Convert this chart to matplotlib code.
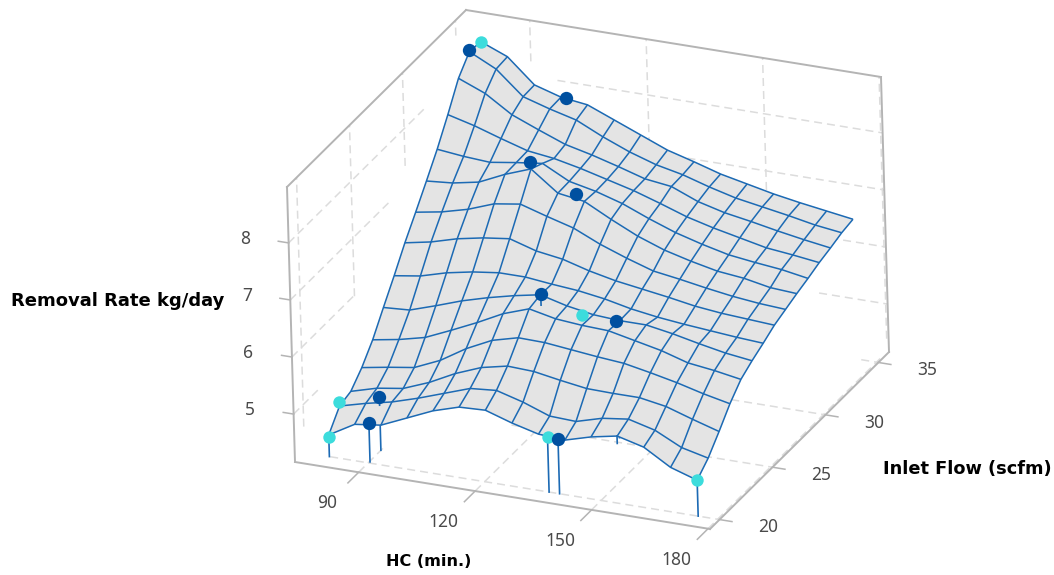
import numpy as np
import matplotlib
matplotlib.use("Agg")
import matplotlib.pyplot as plt
from mpl_toolkits.mplot3d import Axes3D  # noqa: F401

# ---------- data ----------
hc_grid = np.linspace(80, 175, 15)
flow_grid = np.linspace(20, 35, 15)
removal = [
    [4.54,4.80,4.86,5.06,5.26,5.40,5.42,5.27,5.15,5.12,5.25,5.34,5.22,4.94,4.79],
    [4.85,4.97,5.07,5.21,5.37,5.53,5.57,5.44,5.27,5.25,5.38,5.44,5.32,5.09,4.98],
    [4.91,5.04,5.11,5.29,5.52,5.70,5.80,5.78,5.70,5.63,5.62,5.62,5.54,5.39,5.25],
    [5.13,5.21,5.28,5.48,5.76,5.98,6.10,6.09,6.04,5.99,5.95,5.86,5.76,5.64,5.54],
    [5.42,5.50,5.61,5.81,6.02,6.25,6.41,6.31,6.27,6.25,6.15,6.05,5.91,5.85,5.77],
    [5.79,5.82,5.97,6.13,6.26,6.37,6.46,6.34,6.26,6.23,6.23,6.15,6.05,5.96,5.90],
    [6.15,6.22,6.35,6.44,6.50,6.50,6.45,6.41,6.34,6.24,6.17,6.12,6.08,6.04,6.01],
    [6.53,6.62,6.75,6.84,6.90,6.76,6.69,6.56,6.46,6.39,6.32,6.24,6.19,6.16,6.13],
    [6.87,6.95,7.07,7.24,7.31,7.17,7.04,6.83,6.66,6.51,6.44,6.36,6.29,6.24,6.21],
    [7.22,7.26,7.35,7.56,7.73,7.38,7.31,7.07,6.85,6.68,6.56,6.46,6.41,6.32,6.29],
    [7.58,7.53,7.50,7.57,7.63,7.39,7.29,7.15,6.96,6.79,6.66,6.55,6.49,6.44,6.36],
    [7.99,7.87,7.72,7.58,7.52,7.42,7.30,7.18,7.03,6.87,6.75,6.65,6.55,6.50,6.44],
    [8.43,8.24,7.94,7.75,7.57,7.46,7.33,7.19,7.13,6.94,6.82,6.74,6.65,6.57,6.50],
    [8.70,8.47,8.06,7.92,7.80,7.58,7.39,7.24,7.14,7.00,6.88,6.80,6.72,6.63,6.57],
    [8.68,8.49,8.07,7.93,7.87,7.68,7.49,7.30,7.17,7.03,6.93,6.83,6.75,6.68,6.61],
]
dark_hc = [80, 101.7, 105.1, 118, 120.7, 140, 90, 90.2, 139.3]
dark_flow = [33.9, 35, 30.3, 29.9, 25.4, 25.4, 21.2, 20.1, 20]
dark_z = [8.74, 7.93, 7.70, 7.37, 6.46, 6.21, 5.09, 4.84, 5.12]
cyan_hc = [80, 131.2, 80, 80, 136.6, 175]
cyan_flow = [35, 25.4, 21, 20, 20, 20]
cyan_z = [8.68, 6.22, 4.93, 4.5, 5.12, 4.79]
stub_hc = [120.7, 90, 154.6]
stub_flow = [25.4, 21.2, 20]
stub_top = [6.46, 5.09, 5.34]
stub_bottom = [6.27, 4.95, 5.21]

hc_ticks = [90, 120, 150, 180]
flow_ticks = [20, 25, 30, 35]
z_ticks = [5, 6, 7, 8]
hc_lim = (73.6, 180.5)
flow_lim = (19.1, 36.0)
z_lim = (4.16, 8.98)

# ---------- colours ----------
LINE = '#1c6ab4'
FILL = '#e4e4e4'
DARK = '#0050a0'
CYAN = '#3cdcdc'
BOX = '#b4b4b4'
GRID = '#dcdcdc'
TICKTXT = '#4a4a4a'
FONT = 'Noto Sans'

W, H = 1054, 575
fig = plt.figure(figsize=(W / 100, H / 100), dpi=100, facecolor='white')
# square 3-D panel that covers the whole figure width
ax = fig.add_axes([0, (H - W) / 2 / H, 1, W / H], projection='3d')
ax.computed_zorder = False
ax.set_axis_off()
ax.set_xlim(*hc_lim)
ax.set_ylim(*flow_lim)
ax.set_zlim(*z_lim)
x0, x1 = hc_lim
y0, y1 = flow_lim
z0, z1 = z_lim
dx, dy, dz = x1 - x0, y1 - y0, z1 - z0

# ---------- projection of the box onto the canvas ----------
origin = np.array([295.0, H - 462.0])
ex = np.array([415.0, -67.0])
ey = np.array([179.0, 177.0])
ez = np.array([-8.0, 275.0])
P = np.array([
    [ex[0] / dx, ey[0] / dy, ez[0] / dz,
     origin[0] - ex[0] * x0 / dx - ey[0] * y0 / dy - ez[0] * z0 / dz],
    [ex[1] / dx, ey[1] / dy, ez[1] / dz,
     origin[1] - ex[1] * x0 / dx - ey[1] * y0 / dy - ez[1] * z0 / dz],
    [-1 / dx, 1 / dy, -1 / dz, x0 / dx - y0 / dy + z0 / dz],
    [0, 0, 0, 1.0],
])


def canvas_px(xv, yv, zv):
    p = P @ np.array([xv, yv, zv, 1.0])
    return p[:2]


def seg(xs, ys, zs, **kw):
    ax.plot(xs, ys, zs, **kw)


def dashed(xs, ys, zs, on=8.0, off=5.0):
    """Grid line broken into dashes measured in canvas pixels."""
    a = np.array([xs[0], ys[0], zs[0]], float)
    b = np.array([xs[1], ys[1], zs[1]], float)
    length = np.hypot(*(canvas_px(*b) - canvas_px(*a)))
    starts = np.arange(0, length, on + off)
    px, py, pz = [], [], []
    for s in starts:
        e = min(s + on, length)
        for t in (s / length, e / length):
            q = a + (b - a) * t
            px.append(q[0]); py.append(q[1]); pz.append(q[2])
        px.append(np.nan); py.append(np.nan); pz.append(np.nan)
    ax.plot(px, py, pz, color=GRID, lw=1.1, zorder=1.5, solid_capstyle='butt')


# dashed grid
for h in hc_ticks:
    dashed([h, h], [y0, y1], [z0, z0])
    dashed([h, h], [y1, y1], [z0, z1])
for f in flow_ticks:
    dashed([x0, x1], [f, f], [z0, z0])
    dashed([x0, x0], [f, f], [z0, z1])
for v in z_ticks:
    dashed([x0, x0], [y0, y1], [v, v])
    dashed([x0, x1], [y1, y1], [v, v])

# box
box = dict(color=BOX, lw=1.4, zorder=2, solid_capstyle='projecting')
seg([x0, x1], [y0, y0], [z0, z0], **box)
seg([x1, x1], [y0, y1], [z0, z0], **box)
seg([x0, x1], [y1, y1], [z0, z0], **dict(box, lw=1.1))
seg([x0, x0], [y0, y1], [z0, z0], **dict(box, lw=1.1))
seg([x0, x0], [y0, y0], [z0, z1], **box)
seg([x0, x0], [y1, y1], [z0, z1], **box)
seg([x1, x1], [y1, y1], [z0, z1], **box)
seg([x0, x0], [y0, y1], [z1, z1], **box)
seg([x0, x1], [y1, y1], [z1, z1], **box)

# ticks
tick = dict(color=BOX, lw=1.1, zorder=2)
for h in hc_ticks:
    seg([h, h], [y0, y0 - 0.06 * dy], [z0, z0], **tick)
for f in flow_ticks:
    seg([x1, x1 + 0.03 * dx], [f, f], [z0, z0], **tick)
for v in z_ticks:
    seg([x0, x0 - 0.025 * dx], [y0, y0], [v, v], **tick)

# stems run under the surface
stem = dict(color=LINE, lw=1.2, zorder=3)
for a, b, c in zip(dark_hc + cyan_hc, dark_flow + cyan_flow, dark_z + cyan_z):
    seg([a, a], [b, b], [c, z0], **stem)

# surface: fill first, mesh over it
X, Y = np.meshgrid(hc_grid, flow_grid)
Z = np.array(removal)
ax.plot_surface(X, Y, Z, rstride=1, cstride=1, color=FILL,
                edgecolor=FILL, linewidth=0.4, shade=False, zorder=4)
ax.plot_wireframe(X, Y, Z, rstride=1, cstride=1, color=LINE, linewidth=1.1, zorder=4.5)

# short stems visible over the surface
for a, b, c, d in zip(stub_hc, stub_flow, stub_top, stub_bottom):
    seg([a, a], [b, b], [c, d], color=LINE, lw=1.2, zorder=5)

# design points
ax.scatter(cyan_hc, cyan_flow, cyan_z, s=80, c=CYAN, linewidths=0,
           depthshade=False, zorder=6)
ax.scatter(dark_hc, dark_flow, dark_z, s=92, c=DARK, linewidths=0,
           depthshade=False, zorder=7)

# axis titles
title = dict(fontweight='bold', family='DejaVu Sans', color='black', va='center', ha='center')
fig.text(118 / W, 1 - 301 / H, 'Removal Rate kg/day', fontsize=13.0, **title)
fig.text(428.5 / W, 1 - 561 / H, 'HC (min.)', fontsize=11.6, **title)
fig.text(967 / W, 1 - 469 / H, 'Inlet Flow (scfm)', fontsize=12.8, **title)

# map canvas pixels onto the panel's view coordinates
ax.apply_aspect()
m = ax.transData.inverted().get_affine().get_matrix()
V = np.array([[m[0, 0], m[0, 1], 0, m[0, 2]],
              [m[1, 0], m[1, 1], 0, m[1, 2]],
              [0, 0, 1, 0],
              [0, 0, 0, 1.0]])
M = V @ P
ax.get_proj = lambda: M

# tick labels follow the projected axes
txt = dict(color=TICKTXT, fontsize=12.5, family=FONT, ha='center', va='center')
for h in hc_ticks:
    cx, cy = canvas_px(h, y0 - 0.175 * dy, z0)
    fig.text(cx / W, cy / H, str(h), **txt)
for f in flow_ticks:
    cx, cy = canvas_px(x1 + 0.118 * dx, f, z0)
    fig.text(cx / W, cy / H, str(f), **txt)
for v in z_ticks:
    cx, cy = canvas_px(x0 - 0.105 * dx, y0, v - 0.05)
    fig.text(cx / W, cy / H, str(v), **txt)

fig.savefig('out.png', dpi=100, facecolor='white')
